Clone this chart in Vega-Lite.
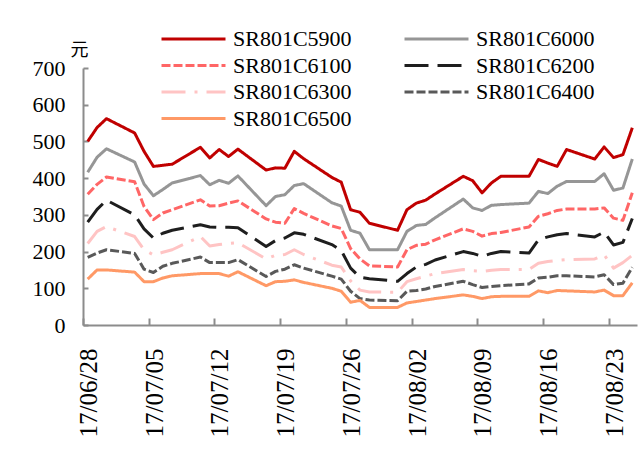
{
  "$schema": "https://vega.github.io/schema/vega-lite/v6.json",
  "width": 554,
  "height": 257,
  "autosize": {"type": "none"},
  "padding": {"left": 83, "top": 68, "right": 5, "bottom": 129},
  "background": "white",
  "config": {"view": {"stroke": null}, "font": "Liberation Serif"},
  "data": {"values": [
    {"d": "2017-06-28", "SR801C5900": 500, "SR801C6000": 416, "SR801C6100": 356, "SR801C6200": 280, "SR801C6300": 222, "SR801C6400": 184, "SR801C6500": 125},
    {"d": "2017-06-29", "SR801C5900": 538, "SR801C6000": 457, "SR801C6100": 383, "SR801C6200": 315, "SR801C6300": 255, "SR801C6400": 196, "SR801C6500": 150},
    {"d": "2017-06-30", "SR801C5900": 562, "SR801C6000": 480, "SR801C6100": 403, "SR801C6200": 340, "SR801C6300": 268, "SR801C6400": 205, "SR801C6500": 150},
    {"d": "2017-07-03", "SR801C5900": 523, "SR801C6000": 444, "SR801C6100": 390, "SR801C6200": 300, "SR801C6300": 241, "SR801C6400": 195, "SR801C6500": 144},
    {"d": "2017-07-04", "SR801C5900": 473, "SR801C6000": 384, "SR801C6100": 323, "SR801C6200": 262, "SR801C6300": 205, "SR801C6400": 152, "SR801C6500": 118},
    {"d": "2017-07-05", "SR801C5900": 432, "SR801C6000": 352, "SR801C6100": 287, "SR801C6200": 237, "SR801C6300": 191, "SR801C6400": 143, "SR801C6500": 118},
    {"d": "2017-07-06", "SR801C5900": 435, "SR801C6000": 369, "SR801C6100": 305, "SR801C6200": 250, "SR801C6300": 198, "SR801C6400": 160, "SR801C6500": 128},
    {"d": "2017-07-07", "SR801C5900": 438, "SR801C6000": 387, "SR801C6100": 314, "SR801C6200": 258, "SR801C6300": 205, "SR801C6400": 168, "SR801C6500": 134},
    {"d": "2017-07-10", "SR801C5900": 484, "SR801C6000": 407, "SR801C6100": 341, "SR801C6200": 273, "SR801C6300": 241, "SR801C6400": 185, "SR801C6500": 140},
    {"d": "2017-07-11", "SR801C5900": 455, "SR801C6000": 382, "SR801C6100": 324, "SR801C6200": 267, "SR801C6300": 215, "SR801C6400": 170, "SR801C6500": 140},
    {"d": "2017-07-12", "SR801C5900": 478, "SR801C6000": 394, "SR801C6100": 325, "SR801C6200": 266, "SR801C6300": 219, "SR801C6400": 170, "SR801C6500": 140},
    {"d": "2017-07-13", "SR801C5900": 459, "SR801C6000": 386, "SR801C6100": 332, "SR801C6200": 266, "SR801C6300": 222, "SR801C6400": 170, "SR801C6500": 133},
    {"d": "2017-07-14", "SR801C5900": 479, "SR801C6000": 406, "SR801C6100": 338, "SR801C6200": 265, "SR801C6300": 224, "SR801C6400": 178, "SR801C6500": 145},
    {"d": "2017-07-17", "SR801C5900": 422, "SR801C6000": 325, "SR801C6100": 289, "SR801C6200": 214, "SR801C6300": 180, "SR801C6400": 132, "SR801C6500": 107},
    {"d": "2017-07-18", "SR801C5900": 428, "SR801C6000": 350, "SR801C6100": 280, "SR801C6200": 230, "SR801C6300": 190, "SR801C6400": 146, "SR801C6500": 118},
    {"d": "2017-07-19", "SR801C5900": 427, "SR801C6000": 355, "SR801C6100": 277, "SR801C6200": 237, "SR801C6300": 192, "SR801C6400": 152, "SR801C6500": 119},
    {"d": "2017-07-20", "SR801C5900": 473, "SR801C6000": 380, "SR801C6100": 317, "SR801C6200": 251, "SR801C6300": 205, "SR801C6400": 164, "SR801C6500": 123},
    {"d": "2017-07-21", "SR801C5900": 453, "SR801C6000": 385, "SR801C6100": 304, "SR801C6200": 247, "SR801C6300": 192, "SR801C6400": 155, "SR801C6500": 116},
    {"d": "2017-07-24", "SR801C5900": 402, "SR801C6000": 333, "SR801C6100": 270, "SR801C6200": 219, "SR801C6300": 163, "SR801C6400": 133, "SR801C6500": 100},
    {"d": "2017-07-25", "SR801C5900": 389, "SR801C6000": 324, "SR801C6100": 263, "SR801C6200": 203, "SR801C6300": 158, "SR801C6400": 125, "SR801C6500": 92},
    {"d": "2017-07-26", "SR801C5900": 314, "SR801C6000": 258, "SR801C6100": 208, "SR801C6200": 155, "SR801C6300": 120, "SR801C6400": 92, "SR801C6500": 62},
    {"d": "2017-07-27", "SR801C5900": 307, "SR801C6000": 250, "SR801C6100": 180, "SR801C6200": 130, "SR801C6300": 95, "SR801C6400": 72, "SR801C6500": 67},
    {"d": "2017-07-28", "SR801C5900": 277, "SR801C6000": 205, "SR801C6100": 161, "SR801C6200": 126, "SR801C6300": 90, "SR801C6400": 68, "SR801C6500": 48},
    {"d": "2017-07-31", "SR801C5900": 258, "SR801C6000": 205, "SR801C6100": 158, "SR801C6200": 119, "SR801C6300": 89, "SR801C6400": 66, "SR801C6500": 48},
    {"d": "2017-08-01", "SR801C5900": 314, "SR801C6000": 255, "SR801C6100": 205, "SR801C6200": 140, "SR801C6300": 118, "SR801C6400": 92, "SR801C6500": 60},
    {"d": "2017-08-02", "SR801C5900": 332, "SR801C6000": 271, "SR801C6100": 217, "SR801C6200": 158, "SR801C6300": 126, "SR801C6400": 94, "SR801C6500": 64},
    {"d": "2017-08-03", "SR801C5900": 340, "SR801C6000": 274, "SR801C6100": 220, "SR801C6200": 165, "SR801C6300": 133, "SR801C6400": 98, "SR801C6500": 68},
    {"d": "2017-08-04", "SR801C5900": 357, "SR801C6000": 292, "SR801C6100": 232, "SR801C6200": 177, "SR801C6300": 140, "SR801C6400": 105, "SR801C6500": 72},
    {"d": "2017-08-07", "SR801C5900": 405, "SR801C6000": 343, "SR801C6100": 262, "SR801C6200": 200, "SR801C6300": 151, "SR801C6400": 119, "SR801C6500": 82},
    {"d": "2017-08-08", "SR801C5900": 393, "SR801C6000": 319, "SR801C6100": 255, "SR801C6200": 195, "SR801C6300": 148, "SR801C6400": 110, "SR801C6500": 78},
    {"d": "2017-08-09", "SR801C5900": 360, "SR801C6000": 312, "SR801C6100": 242, "SR801C6200": 187, "SR801C6300": 146, "SR801C6400": 102, "SR801C6500": 72},
    {"d": "2017-08-10", "SR801C5900": 387, "SR801C6000": 326, "SR801C6100": 249, "SR801C6200": 195, "SR801C6300": 149, "SR801C6400": 105, "SR801C6500": 77},
    {"d": "2017-08-11", "SR801C5900": 405, "SR801C6000": 328, "SR801C6100": 252, "SR801C6200": 200, "SR801C6300": 151, "SR801C6400": 107, "SR801C6500": 78},
    {"d": "2017-08-14", "SR801C5900": 405, "SR801C6000": 332, "SR801C6100": 267, "SR801C6200": 196, "SR801C6300": 151, "SR801C6400": 112, "SR801C6500": 78},
    {"d": "2017-08-15", "SR801C5900": 451, "SR801C6000": 364, "SR801C6100": 296, "SR801C6200": 232, "SR801C6300": 168, "SR801C6400": 128, "SR801C6500": 93},
    {"d": "2017-08-16", "SR801C5900": 441, "SR801C6000": 358, "SR801C6100": 303, "SR801C6200": 240, "SR801C6300": 173, "SR801C6400": 130, "SR801C6500": 88},
    {"d": "2017-08-17", "SR801C5900": 432, "SR801C6000": 378, "SR801C6100": 312, "SR801C6200": 246, "SR801C6300": 176, "SR801C6400": 134, "SR801C6500": 94},
    {"d": "2017-08-18", "SR801C5900": 478, "SR801C6000": 391, "SR801C6100": 316, "SR801C6200": 249, "SR801C6300": 178, "SR801C6400": 134, "SR801C6500": 93},
    {"d": "2017-08-21", "SR801C5900": 452, "SR801C6000": 391, "SR801C6100": 316, "SR801C6200": 240, "SR801C6300": 180, "SR801C6400": 131, "SR801C6500": 90},
    {"d": "2017-08-22", "SR801C5900": 485, "SR801C6000": 412, "SR801C6100": 319, "SR801C6200": 253, "SR801C6300": 191, "SR801C6400": 137, "SR801C6500": 95},
    {"d": "2017-08-23", "SR801C5900": 456, "SR801C6000": 367, "SR801C6100": 291, "SR801C6200": 218, "SR801C6300": 155, "SR801C6400": 110, "SR801C6500": 80},
    {"d": "2017-08-24", "SR801C5900": 464, "SR801C6000": 373, "SR801C6100": 285, "SR801C6200": 225, "SR801C6300": 170, "SR801C6400": 114, "SR801C6500": 80},
    {"d": "2017-08-25", "SR801C5900": 537, "SR801C6000": 452, "SR801C6100": 360, "SR801C6200": 290, "SR801C6300": 190, "SR801C6400": 157, "SR801C6500": 115}
  ]},
  "transform": [
    {"fold": ["SR801C5900", "SR801C6000", "SR801C6100", "SR801C6200", "SR801C6300", "SR801C6400", "SR801C6500"], "as": ["series", "value"]}
  ],
  "mark": {"type": "line", "strokeWidth": 3, "strokeCap": "butt", "strokeJoin": "round"},
  "encoding": {
    "x": {
      "field": "d", "type": "temporal",
      "scale": {"type": "utc", "domain": [
        {"year": 2017, "month": 6, "date": 27, "hours": 12, "utc": true},
        {"year": 2017, "month": 8, "date": 25, "hours": 12, "utc": true}
      ]},
      "axis": {
        "values": [
          {"year": 2017, "month": 6, "date": 28, "utc": true},
          {"year": 2017, "month": 7, "date": 5, "utc": true},
          {"year": 2017, "month": 7, "date": 12, "utc": true},
          {"year": 2017, "month": 7, "date": 19, "utc": true},
          {"year": 2017, "month": 7, "date": 26, "utc": true},
          {"year": 2017, "month": 8, "date": 2, "utc": true},
          {"year": 2017, "month": 8, "date": 9, "utc": true},
          {"year": 2017, "month": 8, "date": 16, "utc": true},
          {"year": 2017, "month": 8, "date": 23, "utc": true}
        ],
        "labelExpr": "utcFormat(datum.value, '%y/%m/%d')",
        "labelAngle": 270, "labelAlign": "right", "labelBaseline": "middle",
        "labelFont": "Liberation Serif", "labelFontSize": 25, "labelColor": "#000000",
        "labelFlush": false, "labelOverlap": false, "labelBound": false,
        "title": null, "grid": false,
        "tickOffset": -4.7, "labelOffset": 5.5,
        "tickSize": -7, "tickWidth": 2, "tickColor": "#8c8c8c",
        "domainColor": "#8c8c8c", "domainWidth": 2,
        "labelPadding": 30
      }
    },
    "y": {
      "field": "value", "type": "quantitative",
      "scale": {"domain": [0, 700], "nice": false},
      "axis": {
        "values": [0, 100, 200, 300, 400, 500, 600, 700],
        "title": "元", "titleAngle": 0, "titleX": -4, "titleY": -9,
        "titleAlign": "center", "titleBaseline": "bottom",
        "titleFont": "Noto Sans CJK SC", "titleFontSize": 18, "titleFontWeight": "normal", "titleColor": "#000000",
        "labelFont": "Liberation Serif", "labelFontSize": 22, "labelColor": "#000000",
        "grid": false, "domainColor": "#8c8c8c", "domainWidth": 2,
        "tickColor": "#8c8c8c", "tickWidth": 2, "tickSize": -5,
        "labelPadding": 23
      }
    },
    "color": {
      "field": "series", "type": "nominal",
      "scale": {
        "domain": ["SR801C5900", "SR801C6000", "SR801C6100", "SR801C6200", "SR801C6300", "SR801C6400", "SR801C6500"],
        "range": ["#C00000", "#969696", "#FF6666", "#1E1E1E", "#FFC4C4", "#595959", "#FF9966"]
      },
      "legend": {
        "title": null, "orient": "none", "legendX": 77, "legendY": -41, "columns": 2, "direction": "horizontal",
        "symbolType": "stroke", "symbolSize": 4096, "symbolStrokeWidth": 3,
        "clipHeight": 24, "rowPadding": 2.5, "columnPadding": 51, "gridAlign": "all",
        "labelFont": "Liberation Serif", "labelFontSize": 22, "labelColor": "#000000",
        "labelOffset": 6, "labelLimit": 300, "padding": 0
      }
    },
    "strokeDash": {
      "field": "series", "type": "nominal",
      "scale": {
        "domain": ["SR801C5900", "SR801C6000", "SR801C6100", "SR801C6200", "SR801C6300", "SR801C6400", "SR801C6500"],
        "range": [[1, 0], [1, 0], [9, 3], [24, 9], [24, 9, 3, 9], [9, 3], [1, 0]]
      },
      "legend": {
        "title": null, "orient": "none", "legendX": 77, "legendY": -41, "columns": 2, "direction": "horizontal",
        "symbolType": "stroke", "symbolSize": 4096, "symbolStrokeWidth": 3,
        "clipHeight": 24, "rowPadding": 2.5, "columnPadding": 51, "gridAlign": "all",
        "labelFont": "Liberation Serif", "labelFontSize": 22, "labelColor": "#000000",
        "labelOffset": 6, "labelLimit": 300, "padding": 0
      }
    }
  }
}
